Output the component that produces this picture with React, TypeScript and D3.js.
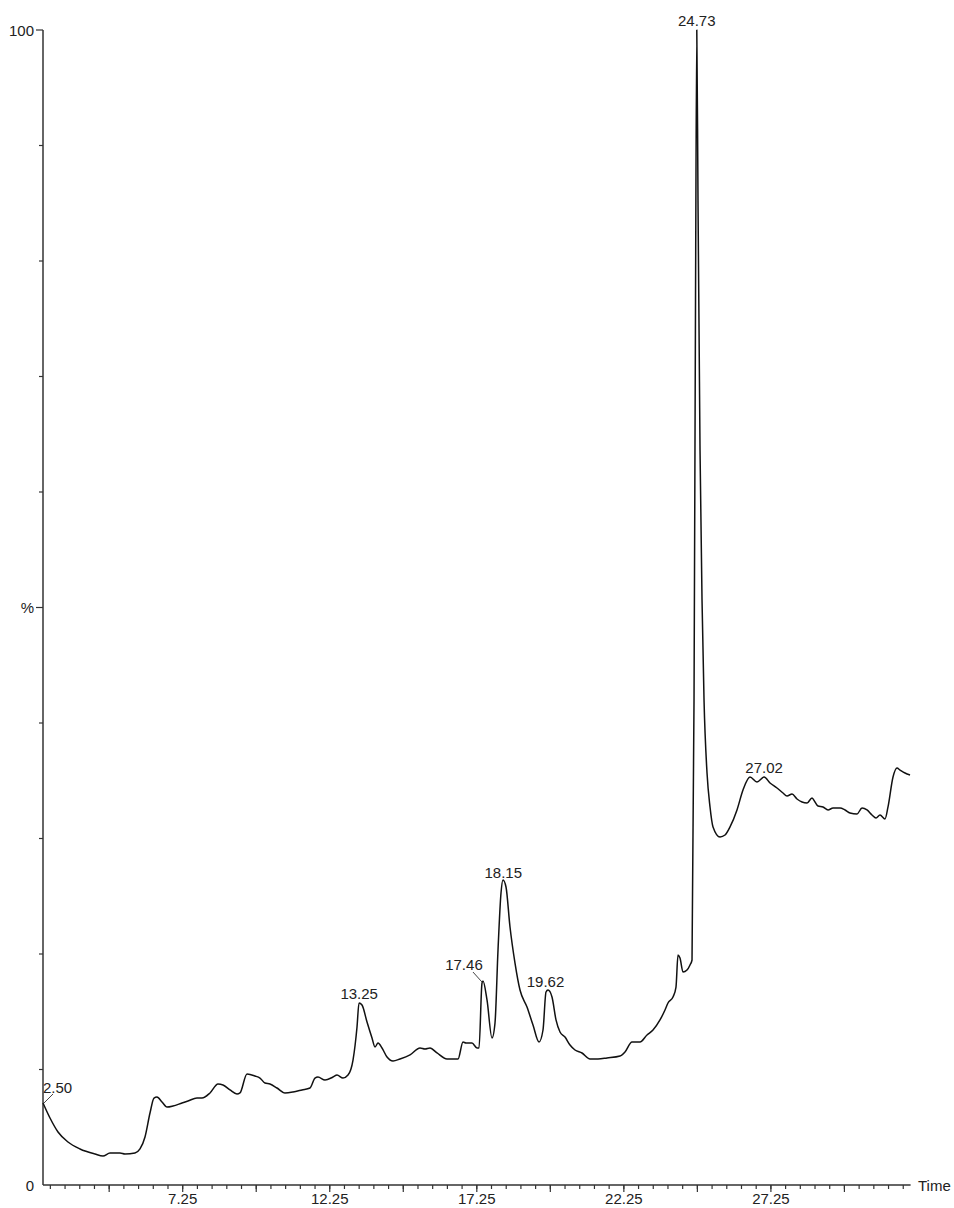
import React from "react";
import * as d3 from "d3";

// Chromatogram trace: retention time (min) and relative intensity (%)
const times = [
  2.5, 2.738, 3.01, 3.35, 3.758, 4.268, 4.54, 4.778, 5.118, 5.288, 5.628, 5.798, 5.968, 6.138, 6.274, 6.376,
  6.546, 6.716, 6.92, 7.226, 7.43, 7.736, 7.906, 8.178, 8.45, 8.62, 8.858, 9.096, 9.198, 9.436, 9.708, 9.878,
  10.048, 10.218, 10.456, 10.728, 11.0, 11.306, 11.578, 11.748, 11.85, 12.089, 12.361, 12.497, 12.701, 12.871,
  13.041, 13.177, 13.245, 13.347, 13.517, 13.687, 13.789, 13.891, 14.027, 14.197, 14.401, 14.639, 14.979,
  15.319, 15.489, 15.659, 15.897, 16.237, 16.611, 16.781, 16.883, 17.087, 17.257, 17.325, 17.427, 17.461,
  17.597, 17.767, 17.869, 17.971, 18.073, 18.141, 18.243, 18.379, 18.549, 18.719, 18.957, 19.161, 19.365,
  19.501, 19.603, 19.671, 19.807, 19.943, 20.079, 20.249, 20.419, 20.589, 20.827, 21.099, 21.371, 21.677,
  22.119, 22.289, 22.527, 22.799, 23.037, 23.241, 23.479, 23.649, 23.751, 23.921, 24.023, 24.091, 24.159,
  24.261, 24.397, 24.5, 24.568, 24.636, 24.687, 24.73, 24.771, 24.84, 24.908, 24.976, 25.078, 25.18, 25.282,
  25.52, 25.69, 25.86, 26.097, 26.301, 26.539, 26.777, 27.02, 27.22, 27.458, 27.662, 27.798, 27.968, 28.138,
  28.308, 28.478, 28.648, 28.75, 28.852, 29.022, 29.192, 29.362, 29.6, 29.77, 29.94, 30.178, 30.348, 30.518,
  30.688, 30.824, 30.96, 31.13, 31.232, 31.402, 31.538, 31.64, 31.81, 31.98,
];
const intensity = [
  7.1, 5.8, 4.59, 3.72, 3.12, 2.68, 2.51, 2.77, 2.77, 2.68, 2.77, 3.12, 4.16, 6.23, 7.53, 7.62,
  7.19, 6.75, 6.84, 7.1, 7.27, 7.53, 7.53, 7.97, 8.74, 8.66, 8.23, 7.88, 7.97, 9.61, 9.44, 9.26,
  8.83, 8.74, 8.4, 7.97, 8.05, 8.23, 8.4, 9.26, 9.35, 9.09, 9.35, 9.52, 9.26, 9.52,
  10.82, 13.68, 15.76, 15.58, 14.11, 12.73, 11.95, 12.29, 11.86, 11.08, 10.74, 10.91, 11.26,
  11.86, 11.77, 11.86, 11.43, 10.91, 10.91, 12.38, 12.29, 12.29, 11.86, 11.86, 17.49, 17.66,
  16.02, 12.73, 14.03, 20.35, 25.28, 26.41, 25.8, 22.34, 19.22, 16.88, 15.41, 13.85, 12.38,
  13.42, 16.71, 16.88, 16.28, 14.29, 13.25, 12.81, 12.12, 11.69, 11.43, 10.91, 10.91, 11.0,
  11.17, 11.52, 12.38, 12.38, 12.99, 13.42, 14.29, 15.15, 15.76, 16.28, 17.14, 19.91, 19.65,
  18.44, 18.61, 19.05, 19.48, 41.99, 76.62, 100, 85.28, 63.64, 50.65, 41.99, 35.67, 32.73, 31.0,
  30.13, 30.3, 31.0, 32.47, 34.2, 35.32, 34.89, 35.32, 34.81, 34.37, 33.94, 33.68, 33.85, 33.42,
  33.16, 33.07, 33.51, 33.16, 32.81, 32.73, 32.47, 32.64, 32.64, 32.47, 32.21, 32.12, 32.64, 32.47,
  32.03, 31.77, 32.03, 31.69, 32.73, 35.32, 36.1, 35.93, 35.67, 35.5,
];

// Labelled peaks
const peakTimes = [2.5, 13.25, 17.46, 18.15, 19.62, 24.73, 27.02];
const peakValues = [7.1, 15.76, 17.66, 26.41, 16.88, 100, 35.32];
const peakLabels = ["2.50", "13.25", "17.46", "18.15", "19.62", "24.73", "27.02"];

const xLabelTicks = [7.25, 12.25, 17.25, 22.25, 27.25];
const xMajorTicks = [4.75, 7.25, 9.75, 12.25, 14.75, 17.25, 19.75, 22.25, 24.75, 27.25, 29.75];
const xMinorTicks = d3.range(2.75, 31.8, 0.5);
const yMinorTicks = d3.range(10, 100, 10);
const yLabelTicks = [0, 50, 100];
const yLabels = ["0", "%", "100"];

const W = 954;
const H = 1208;
const FONT = "'Liberation Sans', Arial, Helvetica, sans-serif";

export default function App() {
  const x = d3.scaleLinear().domain([2.5, 32]).range([43, 910.6]);
  const y = d3.scaleLinear().domain([0, 100]).range([1185, 30]);
  const pts: [number, number][] = times.map((t, i) => [t, intensity[i]]);
  const line = d3
    .line<[number, number]>()
    .x((d) => x(d[0]))
    .y((d) => y(d[1]))
    .curve(d3.curveMonotoneX);

  const x0 = x(2.5);
  const y0 = y(0);
  const axisColor = "#333";
  const textColor = "#222";

  const labelPos = (i: number) => {
    const px = x(peakTimes[i]);
    const py = y(peakValues[i]);
    const lbl = peakLabels[i];
    if (lbl === "2.50") return { tx: px + 14.5, ty: py - 10, leader: [px + 1, py, px + 10, py - 9] };
    if (lbl === "17.46") return { tx: px - 19, ty: py - 11, leader: [px - 10, py - 9, px - 1, py + 1] };
    if (lbl === "18.15") return { tx: px, ty: py - 2, leader: null };
    if (lbl === "19.62") return { tx: px - 1, ty: py - 3, leader: null };
    return { tx: px, ty: py - 4, leader: null };
  };

  return (
    <svg
      width={W}
      height={H}
      style={{ position: "absolute", left: 0, top: 0, background: "#fff" }}
      fontFamily={FONT}
    >
      {/* axes */}
      <line x1={x0} x2={x(32)} y1={y0} y2={y0} stroke={axisColor} strokeWidth={1.5} />
      <line x1={x0} x2={x0} y1={y(0)} y2={y(100)} stroke={axisColor} strokeWidth={1.5} />
      {xMinorTicks.map((t) => (
        <line key={"xm" + t} x1={x(t)} x2={x(t)} y1={y0} y2={y0 + 4} stroke={axisColor} strokeWidth={1.2} />
      ))}
      {xMajorTicks.map((t) => (
        <line key={"xM" + t} x1={x(t)} x2={x(t)} y1={y0} y2={y0 + 7} stroke={axisColor} strokeWidth={1.2} />
      ))}
      {xLabelTicks.map((t) => (
        <text key={"xl" + t} x={x(t)} y={1204} textAnchor="middle" fontSize={15} fill={textColor}>
          {t.toFixed(2)}
        </text>
      ))}
      <text x={918} y={y0 + 5.5} fontSize={15} fill={textColor}>
        Time
      </text>
      {yMinorTicks.map((v) => (
        <line key={"ym" + v} x1={x0 - (v === 50 ? 7 : 4)} x2={x0} y1={y(v)} y2={y(v)} stroke={axisColor} strokeWidth={1.2} />
      ))}
      <line x1={x0 - 7} x2={x0} y1={y(100)} y2={y(100)} stroke={axisColor} strokeWidth={1.2} />
      {yLabelTicks.map((v, i) => (
        <text key={"yl" + v} x={34} y={y(v) + 5.5} textAnchor="end" fontSize={15} fill={textColor}>
          {yLabels[i]}
        </text>
      ))}

      {/* trace */}
      <path d={line(pts) || ""} fill="none" stroke="#111" strokeWidth={1.5} strokeLinejoin="round" />

      {/* peak labels */}
      {peakLabels.map((lbl, i) => {
        const p = labelPos(i);
        return (
          <g key={lbl}>
            {p.leader && (
              <line x1={p.leader[0]} y1={p.leader[1]} x2={p.leader[2]} y2={p.leader[3]} stroke="#444" strokeWidth={1} />
            )}
            <text x={p.tx} y={p.ty} textAnchor="middle" fontSize={15} fill={textColor}>
              {lbl}
            </text>
          </g>
        );
      })}
    </svg>
  );
}
